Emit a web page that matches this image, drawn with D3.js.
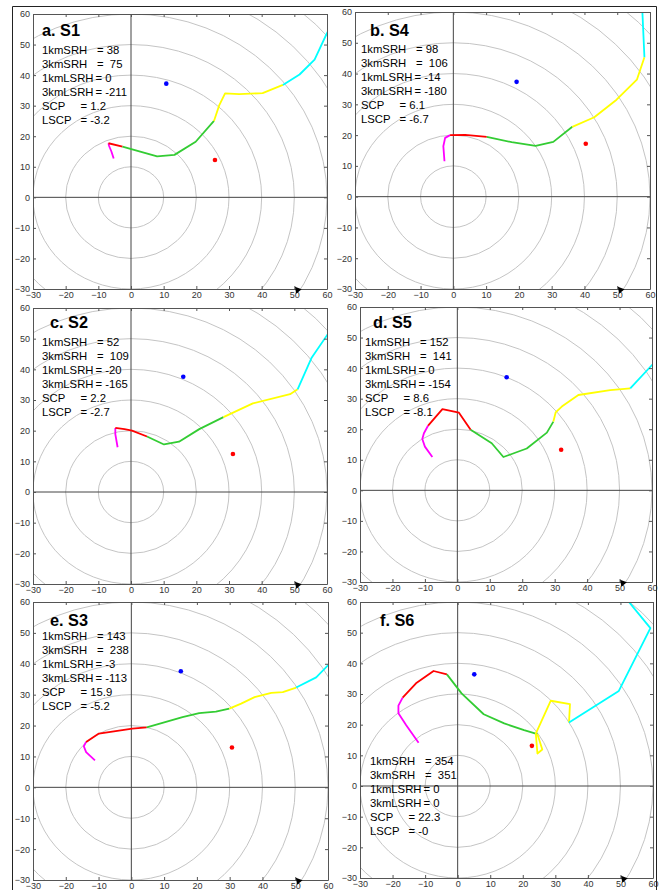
<!DOCTYPE html>
<html><head><meta charset="utf-8">
<script src="https://cdn.jsdelivr.net/npm/d3@7"></script>
<style>body{margin:0;background:#fff}</style>
</head><body><svg id="c" width="662" height="890"></svg>
<script>
// ---------- data ----------
const ticks = [-30,-20,-10,0,10,20,30,40,50,60];
const ringRadii = [10,20,30,40,50,60,70,80,90];
const panelTitles = ["a. S1","b. S4","c. S2","d. S5","e. S3","f. S6"];
const statLabels = ["1kmSRH","3kmSRH","1kmLSRH","3kmLSRH","SCP","LSCP"];
const layerNames = ["0-0.5km","0.5-1km","1-3km","3-6km","6-10km"];

const statsS1 = ["38"," 75","0","-211","1.2","-3.2"];
const statsS4 = ["98"," 106","-14","-180","6.1","-6.7"];
const statsS2 = ["52"," 109","-20","-165","2.2","-2.7"];
const statsS5 = ["152"," 141","0","-154","8.6","-8.1"];
const statsS3 = ["143"," 238","-3","-113","15.9","-5.2"];
const statsS6 = ["354"," 351","0","0","22.3","-0"];

const hodoS1 = [
  [[-5.3,12.7],[-6.0,15.0],[-6.7,16.8],[-6.9,17.7]],
  [[-6.9,17.7],[-2.6,16.6]],
  [[-2.6,16.6],[0.1,15.8],[8,13.4],[13.3,13.9],[19.8,18.2],[25.4,25.0]],
  [[25.4,25.0],[27,30.1],[28.8,34],[33.1,33.8],[40.3,34.1],[46.5,36.8]],
  [[46.5,36.8],[51.6,40.2],[56.2,45.1],[59.8,53.3],[62,58]]
];
const hodoS4 = [
  [[-2.7,11.5],[-3.05,16.4],[-2.5,19.1],[-1.0,20]],
  [[-1.0,20],[3.6,20.1],[10.2,19.4]],
  [[10.2,19.4],[17.8,17.7],[25.1,16.5],[30.5,17.8],[36.3,22.7]],
  [[36.3,22.7],[43,25.8],[49.8,31.5],[56,38],[58.3,45.3]],
  [[58.3,45.3],[57.7,59.5],[57.6,63]]
];
const hodoS2 = [
  [[-4.1,14.6],[-4.8,18.9],[-4.8,20.9]],
  [[-4.8,20.9],[-2,20.5],[0.3,20],[4.9,18.1]],
  [[4.9,18.1],[10.1,15.5],[14.7,16.4],[20.9,20.5],[28.3,24.4]],
  [[28.3,24.4],[37.3,28.9],[48.7,31.9],[51,33.5]],
  [[51,33.5],[55.3,43.8],[60.5,51.9]]
];
const hodoS5 = [
  [[-7.7,10.9],[-10,14.3],[-10.8,16.8],[-10.3,18.7],[-9,21.2]],
  [[-9,21.2],[-4.6,26.6],[0.5,25.4],[4.1,19.8]],
  [[4.1,19.8],[10.6,15.4],[14.2,10.9],[21.4,13.7],[27.6,18.9],[29.6,22.5]],
  [[29.6,22.5],[30.3,25.5],[32.2,27.4],[37.3,31.2],[47.1,32.8],[53.3,33.4]],
  [[53.3,33.4],[60,41],[61,42]]
];
const hodoS3 = [
  [[-11.1,8.7],[-13.8,11.4],[-14.5,13.3],[-13.8,14.7]],
  [[-13.8,14.7],[-9.9,17.4],[-4.8,18.2],[0.3,19],[4.7,19.4]],
  [[4.7,19.4],[9.5,20.9],[15.6,22.7],[20.7,24],[25.8,24.5],[29.9,25.5]],
  [[29.9,25.5],[33.5,27.1],[37.6,29.2],[42.7,30.6],[46.2,30.8],[50.3,32.3]],
  [[50.3,32.3],[56.4,35.6],[60,39.5],[61,41]]
];
const hodoS6 = [
  [[-12,14.1],[-15.8,19.8],[-18.2,23.7],[-18.2,26.2],[-16.9,28.8]],
  [[-16.9,28.8],[-12.8,33.5],[-7.4,37.5],[-3.3,36.4]],
  [[-3.3,36.4],[1.2,30.2],[8,23.4],[14.3,20.4],[20.4,18.2],[24.5,16.9]],
  [[24.5,16.9],[26,11.9],[24.5,10.6],[24,17.1],[28.6,27.8],[34.5,26.7],[34.2,20.7]],
  [[34.2,20.7],[49.5,31],[59.2,51.5],[52.6,60],[50,63]]
];
// storm motions: [left mover (blue), right mover (red)]
const stormS1 = [[10.8,37.2],[25.7,12.2]];
const stormS4 = [[19.3,37.3],[40.4,17.2]];
const stormS2 = [[16,37.6],[31.2,12.4]];
const stormS5 = [[15.2,37],[32,13.3]];
const stormS3 = [[15.1,37.6],[30.7,12.9]];
const stormS6 = [[5.1,36.4],[22.8,13.1]];
const markerPos = [51,-30];

// ---------- layout / style ----------
const layerColors = ["#ff00ff","#ff0000","#33cc33","#ffff00","#00ffff"];
const stormColors = ["#0000ff","#ff0000"];
const eqOffsets = [55,55,53.5,53.5,38.5,38.5];
const layout = [
  {l:33, r:327,t:14, b:289,tx:9, ty:22,sx:9, sy:40},
  {l:355,r:650,t:12, b:289,tx:15,ty:24,sx:6, sy:41},
  {l:33, r:327,t:308,b:584,tx:17,ty:20,sx:9, sy:38},
  {l:360,r:652,t:307,b:582,tx:13,ty:21,sx:5, sy:39},
  {l:33, r:328,t:602,b:880,tx:17,ty:24,sx:9, sy:38},
  {l:360,r:653,t:602,b:878,tx:20,ty:24,sx:10,sy:163}
];
const hodos = [hodoS1,hodoS4,hodoS2,hodoS5,hodoS3,hodoS6];
const stats = [statsS1,statsS4,statsS2,statsS5,statsS3,statsS6];
const storms = [stormS1,stormS4,stormS2,stormS5,stormS3,stormS6];

const svg = d3.select("#c");
svg.append("rect").attr("width",662).attr("height",890).attr("fill","#fff");

const defs = svg.append("defs");
const fmt = d => d < 0 ? "\u2212" + Math.abs(d) : String(d);

layout.forEach((L,i) => {
  const x = d3.scaleLinear().domain([-30,60]).range([L.l,L.r]);
  const y = d3.scaleLinear().domain([-30,60]).range([L.b,L.t]);
  const cid = "clip"+i;
  defs.append("clipPath").attr("id",cid).append("rect")
    .attr("x",L.l).attr("y",L.t).attr("width",L.r-L.l).attr("height",L.b-L.t);
  const g = svg.append("g");
  const pg = g.append("g").attr("clip-path",`url(#${cid})`);
  // rings
  pg.selectAll("ellipse").data(ringRadii).join("ellipse")
    .attr("cx",x(0)).attr("cy",y(0))
    .attr("rx",r=>x(r)-x(0)).attr("ry",r=>y(0)-y(r))
    .attr("fill","none").attr("stroke","#bdbdbd").attr("stroke-width",0.9);
  // zero axes
  pg.append("line").attr("x1",x(0)).attr("x2",x(0)).attr("y1",L.t).attr("y2",L.b)
    .attr("stroke","#444").attr("stroke-width",1);
  pg.append("line").attr("x1",L.l).attr("x2",L.r).attr("y1",y(0)).attr("y2",y(0))
    .attr("stroke","#444").attr("stroke-width",1);
  // hodograph
  const line = d3.line().x(d=>x(d[0])).y(d=>y(d[1]));
  pg.selectAll("path.h").data(hodos[i]).join("path").attr("class","h")
    .attr("d",line).attr("fill","none")
    .attr("stroke",(d,k)=>layerColors[k]).attr("stroke-width",1.8)
    .attr("stroke-linejoin","round");
  // storm motions
  pg.selectAll("circle").data(storms[i]).join("circle")
    .attr("cx",d=>x(d[0])).attr("cy",d=>y(d[1])).attr("r",2.3)
    .attr("fill",(d,k)=>stormColors[k]);
  // axes
  const ax = [
    {a:d3.axisLeft(y), tr:`translate(${L.l},0)`, lab:true},
    {a:d3.axisBottom(x), tr:`translate(0,${L.b})`, lab:true},
    {a:d3.axisRight(y), tr:`translate(${L.r},0)`, lab:false},
    {a:d3.axisTop(x), tr:`translate(0,${L.t})`, lab:false}
  ];
  ax.forEach(o => {
    const ag = g.append("g").attr("transform",o.tr)
      .call(o.a.tickValues(ticks).tickSizeInner(-3).tickSizeOuter(0).tickPadding(3)
        .tickFormat(o.lab ? fmt : ""));
    ag.select(".domain").attr("stroke","#555");
    ag.selectAll(".tick line").attr("stroke","#555");
    ag.selectAll("text").attr("font-family","'Liberation Sans',Arial,sans-serif")
      .attr("font-size",9).attr("fill","#333");
  });
  // marker near bottom
  g.append("path").attr("d",d3.symbol(d3.symbolTriangle,22)())
    .attr("transform",`translate(${x(markerPos[0])},${y(markerPos[1])+1}) rotate(200)`)
    .attr("fill","#000");
  // title
  g.append("text").attr("x",L.l+L.tx).attr("y",L.t+L.ty)
    .attr("font-family","'Liberation Sans',Arial,sans-serif").attr("font-weight","bold")
    .attr("font-size",16.3).attr("fill","#000").text(panelTitles[i]);
  // stats
  statLabels.forEach((lab,k) => {
    const t = g.append("text").attr("y",L.t+L.sy+k*14)
      .attr("font-family","'Liberation Sans',Arial,sans-serif").attr("font-size",11.3)
      .attr("fill","#000").style("white-space","pre");
    t.append("tspan").attr("x",L.l+L.sx).text(lab);
    t.append("tspan").attr("x",L.l+L.sx+eqOffsets[k]).text("= "+stats[i][k]);
  });
});

// outer frame
svg.append("path").attr("d","M12.5,892 V6.5 H656.5 V892")
  .attr("fill","none").attr("stroke","#222").attr("stroke-width",1);
</script></body></html>
